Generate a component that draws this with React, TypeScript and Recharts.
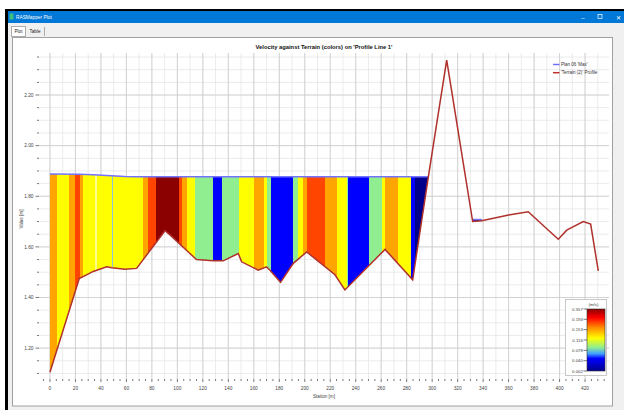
import React from "react"
import { ComposedChart, Area, Line, XAxis, YAxis, CartesianGrid, ReferenceArea } from "recharts"

const FONT = "'Liberation Sans', Arial, sans-serif"

// terrain profile and max water surface
const stations = [0, 23, 34, 44.5, 48.4, 58.9, 68, 90.3, 94, 115, 128, 136, 147.8, 150.4, 163.5, 170, 172.7, 181, 191, 201.5, 223.7, 231.5, 263, 284.7, 297, 311.4, 331.8, 338.8, 350, 360, 375.4, 399, 405.6, 418.6, 424.4, 430.4]
const terrain = [1.105, 1.475, 1.503, 1.521, 1.518, 1.512, 1.515, 1.664, 1.648, 1.55, 1.545, 1.545, 1.574, 1.541, 1.508, 1.521, 1.508, 1.46, 1.535, 1.58, 1.49, 1.43, 1.59, 1.47, 1.877, 2.338, 1.7, 1.703, 1.715, 1.726, 1.739, 1.63, 1.666, 1.7, 1.69, 1.505]
const water = [1.888, 1.887, 1.885, 1.882, 1.881, 1.878, 1.877, 1.877, 1.877, 1.877, 1.877, 1.877, 1.877, 1.877, 1.877, 1.877, 1.877, 1.877, 1.877, 1.877, 1.877, 1.877, 1.877, 1.877, 1.877, null, 1.708, 1.708, null, null, null, null, null, null, null, null]

// velocity bands: station where each colour starts
const bandStarts = [0, 5.7, 15.1, 19.6, 23.5, 25.6, 35.3, 37.2, 48.4, 49.2, 73.2, 77.2, 83.2, 101.5, 103.3, 107.3, 113.8, 127.7, 134.7, 148.6, 160.1, 168.2, 170.6, 173.5, 191, 194.6, 198.6, 201.5, 215.9, 225.5, 232.9, 234.2, 250.7, 260.4, 263, 273.4, 283.1, 286.5, 297]
const bandColors = ["#ffa500", "#ffff00", "#ffa500", "#ff4500", "#ffa500", "#ffff00", "#ffff8c", "#ffff00", "#8cc4e0", "#ffff00", "#ffa500", "#ff4500", "#8b0000", "#ff4500", "#ffa500", "#ffff00", "#90ee90", "#0000ff", "#90ee90", "#ffff00", "#ffa500", "#ffff00", "#90ee90", "#0000ff", "#90ee90", "#ffff00", "#ffa500", "#ff4500", "#ffa500", "#ffff00", "#90ee90", "#0000ff", "#90ee90", "#ffff00", "#ffa500", "#ffff00", "#0000ff", "#00008b", "#1010c0"]

const xLabels = [0, 20, 40, 60, 80, 100, 120, 140, 160, 180, 200, 220, 240, 260, 280, 300, 320, 340, 360, 380, 400, 420]
const yLabels = [1.2, 1.4, 1.6, 1.8, 2.0, 2.2]
const seriesNames = ["Plan 06 'Max'", "'Terrain (2)' Profile"]
const scaleLabels = ["0.557", "0.194", "0.153", "0.116", "0.078", "0.040", "0.002"]
const scaleColors = ["#8b0000", "#ff0000", "#ff8c00", "#ffff00", "#90ee90", "#40a0ff", "#0000ff", "#00008b"]
const scaleOffsets = [0, 0.14, 0.3, 0.47, 0.62, 0.72, 0.8, 1]

const xDomain = [-8.6, 438.8]
const yDomain = [1.078, 2.366]

const steps = (from: number, to: number, step: number) => {
  const out: number[] = []
  for (let v = from; v <= to + 1e-9; v += step) out.push(Math.round(v * 1000) / 1000)
  return out
}
const xTicks = steps(-5, 435, 5)
const yTicks = steps(1.1, 2.35, 0.05)
const xGridMinor = steps(-0, 430, 10)
const yGridMinor = steps(1.1, 2.35, 0.05)

const data = stations.map((s, i) => ({
  station: s,
  terrain: terrain[i],
  water: water[i],
  wet: water[i] == null ? null : [terrain[i], water[i]],
}))

const wetStations = stations.filter((_, i) => water[i] != null)
const areaMin = Math.min(...wetStations)
const areaMax = Math.max(...wetStations)
const off = (s: number) => `${(((s - areaMin) / (areaMax - areaMin)) * 100).toFixed(3)}%`

function XTick(props: any) {
  const { x, y, payload } = props
  const major = xLabels.includes(payload.value)
  return (
    <g>
      <line x1={x} x2={x} y1={y} y2={y + (major ? 3 : 2)} stroke="#555" strokeWidth={0.8} />
      {major && (
        <text x={x} y={y + 10.6} textAnchor="middle" fontSize={4.8} fontFamily={FONT} fill="#444">
          {payload.value}
        </text>
      )}
    </g>
  )
}

function YTick(props: any) {
  const { x, y, payload } = props
  const major = yLabels.some((v) => Math.abs(v - payload.value) < 1e-6)
  return (
    <g>
      <line x1={x - (major ? 3.5 : 2)} x2={x} y1={y} y2={y} stroke="#555" strokeWidth={0.8} />
      {major && (
        <text x={x - 5.5} y={y + 1.7} textAnchor="end" fontSize={4.8} fontFamily={FONT} fill="#444">
          {payload.value.toFixed(2)}
        </text>
      )}
    </g>
  )
}

function WindowFrame() {
  return (
    <svg width={624} height={410} style={{ position: "absolute", left: 0, top: 0 }} fontFamily={FONT}>
      <rect x={0} y={0} width={624} height={410} fill="#fff" />
      <rect x={5} y={9} width={619} height={401} fill="#000" />
      <rect x={8} y={11} width={616} height={12} fill="#0078d7" />
      <rect x={8} y={23} width={616} height={387} fill="#f0f0f0" />
      <rect x={9.5} y={13.5} width={4} height={6} fill="#3fbf7f" />
      <text x={16} y={19} fontSize={4.8} fill="#fff">RASMapper Plot</text>
      <text x={583} y={19.5} fontSize={6} fill="#fff" textAnchor="middle">–</text>
      <rect x={598} y={14.5} width={4} height={4} fill="none" stroke="#fff" strokeWidth={0.7} />
      <text x={618} y={19.5} fontSize={6} fill="#fff" textAnchor="middle">✕</text>
      <rect x={11.5} y={26.5} width={14} height={10} fill="#fff" stroke="#adadad" strokeWidth={1} />
      <text x={18.5} y={33.2} fontSize={4.6} fill="#222" textAnchor="middle">Plot</text>
      <text x={35} y={33.2} fontSize={4.6} fill="#222" textAnchor="middle">Table</text>
      <line x1={44.5} x2={44.5} y1={27} y2={36} stroke="#999" strokeWidth={0.8} />
      <rect x={12.5} y={37.5} width={600} height={368.5} fill="#fff" stroke="#a0a0a0" strokeWidth={1} />
      <text x={324} y={49} fontSize={5.8} fontWeight="bold" fill="#111" textAnchor="middle">
        Velocity against Terrain (colors) on 'Profile Line 1'
      </text>
      <text x={324} y={397.5} fontSize={4.6} fill="#444" textAnchor="middle">Station [m]</text>
      <text x={0} y={0} fontSize={4.6} fill="#444" textAnchor="middle" transform="translate(23,219) rotate(-90)">
        Value [m]
      </text>
    </svg>
  )
}

function Overlays() {
  return (
    <svg width={624} height={410} style={{ position: "absolute", left: 0, top: 0, pointerEvents: "none" }} fontFamily={FONT}>
      <defs>
        <linearGradient id="scaleGrad" x1="0" y1="0" x2="0" y2="1">
          {scaleColors.map((c, i) => (
            <stop key={i} offset={`${scaleOffsets[i] * 100}%`} stopColor={c} />
          ))}
        </linearGradient>
      </defs>
      {/* series legend */}
      <line x1={553} x2={559.5} y1={64.5} y2={64.5} stroke="#7070ff" strokeWidth={1.5} />
      <text x={561} y={66.2} fontSize={4.5} fill="#333">{seriesNames[0]}</text>
      <line x1={553} x2={559.5} y1={72.7} y2={72.7} stroke="#c03030" strokeWidth={1.5} />
      <text x={561} y={74.4} fontSize={4.5} fill="#333">{seriesNames[1]}</text>
      {/* colour scale */}
      <rect x={565.5} y={299.5} width={41} height={76} fill="#fff" stroke="#bbb" strokeWidth={0.8} />
      <text x={593.5} y={305.5} fontSize={4.3} fill="#333" textAnchor="middle">(m/s)</text>
      <rect x={587} y={309} width={18} height={62} fill="url(#scaleGrad)" stroke="#333" strokeWidth={0.6} />
      {scaleLabels.map((l, i) => {
        const y = 309 + (62 * i) / (scaleLabels.length - 1)
        return (
          <g key={l}>
            <line x1={583.5} x2={587} y1={y} y2={y} stroke="#444" strokeWidth={0.7} />
            <text x={583} y={y + 1.6} fontSize={4.4} fill="#444" textAnchor="end">{l}</text>
          </g>
        )
      })}
    </svg>
  )
}

export default function App() {
  return (
    <div style={{ position: "absolute", left: 0, top: 0, width: 624, height: 410, overflow: "hidden", fontFamily: FONT }}>
      <WindowFrame />
      <div style={{ position: "absolute", left: 0, top: 0 }}>
        <ComposedChart width={624} height={410} data={data} margin={{ top: 53, right: 15, bottom: 10, left: 9 }}>
          <defs>
            <linearGradient id="velGrad" x1="0" y1="0" x2="1" y2="0">
              {bandStarts.flatMap((s, i) => {
                const end = i + 1 < bandStarts.length ? bandStarts[i + 1] : areaMax
                return [
                  <stop key={`a${i}`} offset={off(s)} stopColor={bandColors[i]} />,
                  <stop key={`b${i}`} offset={off(end)} stopColor={bandColors[i]} />,
                ]
              })}
            </linearGradient>
          </defs>
          <CartesianGrid horizontalValues={yGridMinor} verticalValues={xGridMinor} stroke="#e6e6e6" strokeWidth={0.8} />
          <CartesianGrid horizontalValues={yLabels} verticalValues={xLabels} stroke="#cdcdcd" strokeWidth={0.8} />
          <XAxis
            type="number"
            dataKey="station"
            domain={xDomain}
            ticks={xTicks}
            interval={0}
            height={21}
            tickSize={0}
            tickMargin={0}
            tickLine={false}
            axisLine={false}
            tick={<XTick />}
            allowDataOverflow
          />
          <YAxis
            type="number"
            domain={yDomain}
            ticks={yTicks}
            interval={0}
            width={30}
            tickSize={0}
            tickMargin={0}
            tickLine={false}
            axisLine={false}
            tick={<YTick />}
            allowDataOverflow
          />
          <Area
            type="linear"
            dataKey="wet"
            fill="url(#velGrad)"
            fillOpacity={1}
            stroke="none"
            dot={false}
            activeDot={false}
            isAnimationActive={false}
          />
          <Line type="linear" dataKey="water" stroke="#7373ff" strokeWidth={1.4} dot={false} activeDot={false} isAnimationActive={false} />
          <Line type="linear" dataKey="terrain" stroke="#b0302c" strokeWidth={1.5} dot={false} activeDot={false} isAnimationActive={false} />
          <ReferenceArea fill="none" stroke="#666" strokeWidth={0.9} ifOverflow="visible" />
        </ComposedChart>
      </div>
      <Overlays />
    </div>
  )
}
